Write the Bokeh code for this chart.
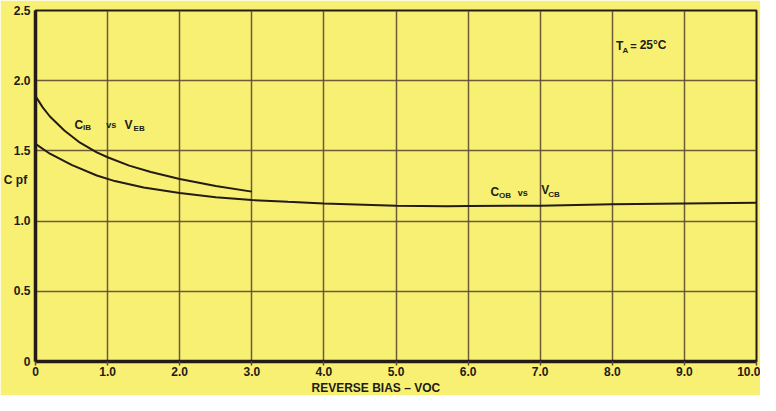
from bokeh.plotting import figure
from bokeh.models import FixedTicker, Label, Range1d, Title
from bokeh.embed import file_html
from bokeh.resources import INLINE

# ---- data ----
veb = [0, 0.1, 0.2, 0.4, 0.6, 0.85, 1.0, 1.3, 1.6, 2.0, 2.5, 3.0]
cib = [1.89, 1.81, 1.745, 1.645, 1.565, 1.49, 1.455, 1.395, 1.35, 1.30, 1.25, 1.21]

vcb = [0, 0.2, 0.5, 0.85, 1.1, 1.5, 2.0, 2.5, 3.0, 3.5, 4.0, 5.0, 5.7, 6.0, 7.0, 8.0, 9.0, 10.0]
cob = [1.55, 1.48, 1.40, 1.325, 1.285, 1.24, 1.20, 1.17, 1.15, 1.137, 1.125, 1.11, 1.105, 1.107, 1.11, 1.12, 1.125, 1.13]

x_ticks = [0, 1, 2, 3, 4, 5, 6, 7, 8, 9, 10]
x_tick_labels = ["0", "1.0", "2.0", "3.0", "4.0", "5.0", "6.0", "7.0", "8.0", "9.0", "10.0"]
y_ticks = [0, 0.5, 1.0, 1.5, 2.0, 2.5]
y_tick_labels = ["0", "0.5", "1.0", "1.5", "2.0", "2.5"]
y_title_pos = 1.29
y_title = "C  pf"
x_title = "REVERSE  BIAS  – VOC"

BG = "#f7f073"
INK = "#231b14"
GRID = "#5e4a32"
FONT = "Liberation Sans"

p = figure(width=760, height=395, output_backend="svg", toolbar_location=None,
           x_range=Range1d(0, 10), y_range=Range1d(0, 2.5),
           min_border_left=34, min_border_right=4, min_border_top=10, min_border_bottom=33)
p.background_fill_color = BG
p.border_fill_color = BG
p.outline_line_color = INK
p.outline_line_width = 2

for ax in (p.xaxis[0], p.yaxis[0]):
    ax.axis_line_color = INK
    ax.axis_line_width = 3.5
    ax.major_tick_in = 0
    ax.major_tick_line_color = GRID
    ax.major_tick_line_width = 1.5
    ax.minor_tick_line_color = None
    ax.major_label_text_font = FONT
    ax.major_label_text_font_style = "bold"
    ax.major_label_text_font_size = "12px"
    ax.major_label_text_color = INK

p.xaxis.major_tick_out = 4
p.xaxis.ticker = FixedTicker(ticks=x_ticks)
p.xaxis.major_label_overrides = {t: l for t, l in zip(x_ticks, x_tick_labels)}
p.xaxis.major_label_standoff = 1

p.yaxis.major_tick_out = 0
p.yaxis.ticker = FixedTicker(ticks=y_ticks + [y_title_pos])
overrides = {t: l for t, l in zip(y_ticks, y_tick_labels)}
overrides[y_title_pos] = y_title
p.yaxis.major_label_overrides = overrides
p.yaxis.major_label_standoff = 5

p.xgrid.ticker = FixedTicker(ticks=x_ticks)
p.ygrid.ticker = FixedTicker(ticks=y_ticks)
for g in (p.xgrid[0], p.ygrid[0]):
    g.grid_line_color = GRID
    g.grid_line_width = 1.5
    g.grid_line_alpha = 0.9

p.line(vcb, cob, line_color=INK, line_width=2)
p.line(veb, cib, line_color=INK, line_width=2)

p.add_layout(Title(text=x_title, align="left", offset=276, standoff=1,
                   text_font=FONT, text_font_style="bold", text_font_size="12px",
                   text_color=INK), "below")


def lab(x, y, text, size, align="left"):
    p.add_layout(Label(x=x, y=y, text=text, text_font=FONT, text_font_style="bold",
                       text_font_size=size, text_color=INK, text_align=align,
                       text_baseline="alphabetic"))


# C_IB vs V_EB
lab(0.54, 1.685, "C", "12px")
lab(0.66, 1.664, "IB", "8px")
lab(0.98, 1.688, "vs", "9px")
lab(1.235, 1.685, "V", "12px")
lab(1.36, 1.657, "EB", "8px")

# C_OB vs V_CB
lab(6.31, 1.207, "C", "12px")
lab(6.43, 1.18, "OB", "8px")
lab(6.69, 1.200, "vs", "9px")
lab(7.015, 1.221, "V", "12px")
lab(7.11, 1.187, "CB", "8px")

# T_A = 25°C
lab(8.05, 2.244, "T", "12px")
lab(8.14, 2.217, "A", "8px")
lab(8.25, 2.244, "=", "11px")
lab(8.38, 2.251, "25°C", "12px")

open("out.html", "w").write(file_html(p, INLINE))
